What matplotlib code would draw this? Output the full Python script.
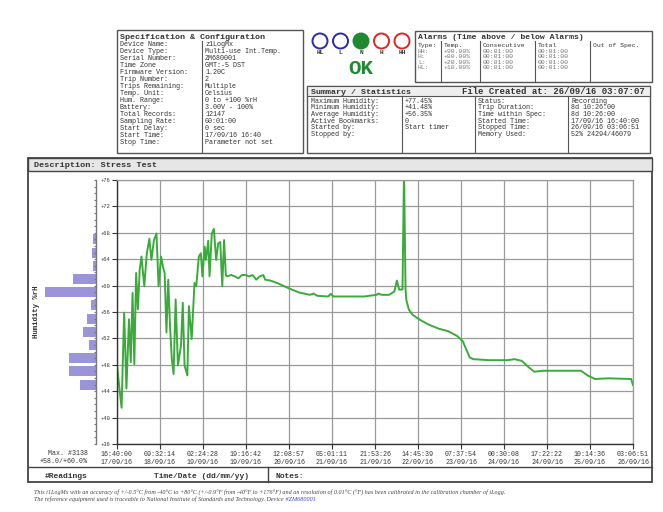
import numpy as np
import matplotlib.pyplot as plt
from matplotlib.patches import Rectangle, Circle

# humidity trace, elapsed hours since start (17/09/16 16:40:00)
hours = [0.0, 1.1, 1.8, 2.8, 3.7, 4.7, 5.4, 6.1, 6.8, 7.5, 8.2, 8.9, 9.6, 10.7, 11.7,
         12.7, 13.5, 14.5, 15.5, 16.3, 17.3, 18.0, 18.7, 19.4, 20.1, 20.8, 21.5, 22.2,
         23.0, 23.9, 25.1, 25.8, 26.5, 27.6, 28.2, 29.3, 30.4, 31.1, 32.1, 32.9, 33.5,
         34.4, 34.9, 35.8, 36.3, 37.2, 38.0, 38.9, 39.7, 40.5, 41.3, 42.0, 42.7, 43.1,
         44.8, 46.2, 47.6, 49.0, 50.4, 51.8, 53.2, 54.6, 56.0, 57.4, 58.1, 60.3, 63.1,
         67.3, 71.5, 75.7, 77.1, 78.6, 82.8, 83.9, 84.9, 89.8, 96.9, 101.8, 102.5,
         103.9, 106.7, 108.8, 109.8, 110.7, 112.0, 112.6, 113.2, 113.5, 114.5, 115.9,
         118.7, 122.2, 126.4, 129.9, 133.5, 135.6, 137.0, 138.4, 139.8, 146.1, 153.2,
         156.0, 158.8, 161.6, 163.7, 167.2, 174.3, 182.0, 184.8, 187.6, 192.6, 201.7,
         202.4]
humidity = [47.9, 43.9, 41.5, 55.9, 44.4, 54.9, 48.4, 58.9, 48.1, 61.9, 56.4, 62.4,
            64.4, 59.9, 64.9, 67.1, 63.9, 66.9, 67.9, 59.9, 64.4, 62.9, 61.9, 52.9,
            60.9, 53.9, 48.9, 46.6, 57.9, 47.9, 50.9, 57.4, 47.9, 46.4, 56.9, 51.9,
            60.4, 59.9, 64.4, 64.9, 61.4, 65.9, 63.9, 66.8, 61.4, 67.9, 68.6, 63.9,
            66.4, 66.6, 59.9, 66.9, 61.6, 61.4, 61.6, 61.4, 61.1, 61.6, 61.6, 61.4,
            61.6, 60.9, 61.4, 61.6, 60.9, 60.75, 60.35, 59.6, 58.95, 58.6, 58.8, 58.45,
            58.35, 58.75, 58.35, 58.35, 58.35, 58.6, 58.8, 58.6, 58.6, 59.1, 60.75,
            59.4, 59.4, 77.45, 59.4, 57.85, 56.35, 55.6, 54.85, 54.1, 53.45, 53.1,
            52.35, 51.6, 50.35, 49.1, 48.85, 48.7, 48.7, 48.85, 48.6, 47.6, 46.95,
            47.1, 47.1, 47.1, 46.35, 45.85, 45.95, 45.85, 44.95]

hist_centers = [67, 65, 63, 61, 59, 57, 55, 53, 51, 49, 47, 45]
hist_counts = [210, 270, 210, 1450, 3210, 335, 585, 840, 420, 1680, 1680, 1010]

tick_times = ['16:40:00', '09:32:14', '02:24:28', '19:16:42', '12:08:57', '05:01:11',
              '21:53:26', '14:45:39', '07:37:54', '00:30:08', '17:22:22', '10:14:36',
              '03:06:51']
tick_dates = ['17/09/16', '18/09/16', '19/09/16', '19/09/16', '20/09/16', '21/09/16',
              '21/09/16', '22/09/16', '23/09/16', '24/09/16', '24/09/16', '25/09/16',
              '26/09/16']
trip_hours = 202.43

spec_labels = ['Device Name:', 'Device Type:', 'Serial Number:', 'Time Zone', 'Firmware Version:',
               'Trip Number:', 'Trips Remaining:', 'Temp. Unit:', 'Hum. Range:', 'Battery:',
               'Total Records:', 'Sampling Rate:', 'Start Delay:', 'Start Time:', 'Stop Time:']
spec_values = ['z1LogMx', 'Multi-use Int.Temp.', 'ZM680001', 'GMT:-5 DST', '1.20C', '2',
               'Multiple', 'Celsius', '0 to +100 %rH', '3.00V - 100%', '12147', '00:01:00',
               '0 sec', '17/09/16 16:40', 'Parameter not set']

alarm_types = ['HH:', 'H:', 'L:', 'HL:']
alarm_levels = ['+90.00%', '+80.00%', '+20.00%', '+10.00%']
alarm_consec = ['00:01:00'] * 4
alarm_total = ['00:01:00'] * 4

sum_labels1 = ['Maximum Humidity:', 'Minimum Humidity:', 'Average Humidity:',
               'Active Bookmarks:', 'Started by:', 'Stopped by:']
sum_values1 = ['+77.45%', '+41.48%', '+56.35%', '0', 'Start timer', '']
sum_labels2 = ['Status:', 'Trip Duration:', 'Time within Spec:', 'Started Time:',
               'Stopped Time:', 'Memory Used:']
sum_values2 = ['Recording', '8d 10:26:00', '8d 10:26:00', '17/09/16 16:40:00',
               '26/09/16 03:06:51', '52% 24294/46079']

mono = 'Liberation Mono'
txt = '#333333'
W, H = 663, 512

fig = plt.figure(figsize=(W / 100, H / 100), dpi=100)
fig.patch.set_facecolor('white')

# pixel-space overlay for the report frame
bg = fig.add_axes([0, 0, 1, 1], zorder=0)
bg.set_xlim(0, W)
bg.set_ylim(H, 0)
bg.axis('off')


def box(x0, y0, x1, y1, lw=1.0, fc='none', ec='#555555'):
    bg.add_patch(Rectangle((x0, y0), x1 - x0, y1 - y0, fc=fc, ec=ec, lw=lw))


def t(x, y, s, size=4.9, bold=False, **kw):
    # y is the visual middle of the row; shift to the baseline
    return bg.text(x, y + size * 0.45, s, fontsize=size, family=mono, color=kw.pop('color', txt),
                   fontweight='bold' if bold else 'normal', va='baseline', **kw)


# specification box
box(117, 30, 303, 153)
bg.plot([202, 202], [41, 153], color='#555555', lw=0.8)
t(120, 36, 'Specification & Configuration', size=6.0, bold=True)
for i, (lab, val) in enumerate(zip(spec_labels, spec_values)):
    y = 44 + i * 7.0
    t(120, y, lab)
    t(205, y, val)

# LEDs
led_x = [320, 340.5, 361, 381.5, 402]
led_names = ['HL', 'L', 'N', 'H', 'HH']
led_col = ['#2a2aa8', '#2a2aa8', '#1f8a2f', '#e02424', '#e02424']
for x, nm, c in zip(led_x, led_names, led_col):
    bg.add_patch(Circle((x, 41), 7.5, fc=c if nm == 'N' else 'white', ec=c, lw=1.4))
    t(x, 52, nm, size=4.5, bold=True, ha='center')
t(361, 67, 'OK', size=15, bold=True, ha='center', color='#1f8a2f')

# alarms box
box(415, 31, 652, 82)
t(418, 36, 'Alarms (Time above / below Alarms)', size=5.9, bold=True)
for xv in [441, 480, 535, 590]:
    bg.plot([xv, xv], [41, 82], color='#555555', lw=0.8)
t(418, 45, 'Type:', size=4.6)
t(444, 45, 'Temp.', size=4.6)
t(483, 45, 'Consecutive', size=4.6)
t(538, 45, 'Total', size=4.6)
t(593, 45, 'Out of Spec.', size=4.6)
for i in range(4):
    y = 50.5 + i * 5.6
    t(418, y, alarm_types[i], size=4.6, color='#777777')
    t(444, y, alarm_levels[i], size=4.6, color='#777777')
    t(483, y, alarm_consec[i], size=4.6, color='#777777')
    t(538, y, alarm_total[i], size=4.6, color='#777777')

# summary box
box(307, 86, 650, 153)
box(307, 86, 650, 96, fc='#eeeeee', lw=0.8)
t(311, 91, 'Summary / Statistics', size=6.0, bold=True)
t(462, 91, 'File Created at: 26/09/16 03:07:07', size=6.4, bold=True)
for xv in [402, 475, 568]:
    bg.plot([xv, xv], [96, 153], color='#555555', lw=0.8)
for i in range(6):
    y = 100.5 + i * 6.6
    t(311, y, sum_labels1[i])
    t(405, y, sum_values1[i])
    t(478, y, sum_labels2[i])
    t(571, y, sum_values2[i])

# chart frame
box(28, 158, 652, 482, lw=1.3, ec='#444444')
box(28, 158, 652, 171, fc='#e6e6e6', lw=1.0, ec='#444444')
t(34, 164.5, 'Description: Stress Test', size=6.1, bold=True)
bg.plot([28, 652], [467, 467], color='#444444', lw=1.0)
bg.plot([268, 268], [467, 482], color='#444444', lw=1.0)
t(45, 475, '#Readings', size=5.8, bold=True)
t(201, 475, 'Time/Date (dd/mm/yy)', size=5.7, bold=True, ha='center')
t(275, 475, 'Notes:', size=5.8, bold=True)
t(88, 452.5, 'Max. #3138', size=4.8, ha='right')
t(88, 460.5, '+58.0/+60.0%', size=4.8, ha='right')

# footer
serif = dict(fontsize=4.4, family='Liberation Serif', style='italic', va='center')
bg.text(34, 493, 'This i1LogMx with an accuracy of +/-0.5\u00b0C from -40\u00b0C to +80\u00b0C (+/-0.9\u00b0F from -40\u00b0F to +176\u00b0F) '
        'and an resolution of 0.01\u00b0C (\u00b0F) has been calibrated in the calibration chamber of iLogg.',
        color='#444444', **serif)
f2 = bg.text(34, 499.5, 'The reference equipment used is traceable to National Institute of Standards and Technology. Device',
             color='#444444', **serif)
bg.annotate(' #ZM680001', xy=(1, 0.5), xycoords=f2, ha='left', color='#3344cc', **serif)

# main humidity chart
ax = fig.add_axes([117 / W, 1 - 444 / H, 516 / W, 264 / H], zorder=2)
ax.plot(hours, humidity, color='#3aab3a', lw=1.4)
ax.set_xlim(0, trip_hours)
ax.set_ylim(36, 76)
xt = np.linspace(0, trip_hours, len(tick_times))
ax.set_xticks(xt)
ax.set_xticklabels([a + '\n' + b for a, b in zip(tick_times, tick_dates)],
                   family=mono, fontsize=4.8, color=txt, linespacing=1.3)
yt = np.arange(36, 77, 4)
ax.set_yticks(yt)
ax.set_yticklabels(['+%d' % v for v in yt], family=mono, fontsize=4.0, color=txt)
ax.tick_params(axis='both', length=3.5, width=0.8, color='#333333', pad=1.5)
ax.grid(True, color='#9a9a9a', lw=0.9)
for side in ['top', 'right']:
    ax.spines[side].set_color('#9a9a9a')
    ax.spines[side].set_linewidth(0.9)
for side in ['left', 'bottom']:
    ax.spines[side].set_color('#333333')
    ax.spines[side].set_linewidth(1.0)
ax.set_axisbelow(True)

# distribution histogram on the left
hx = fig.add_axes([40 / W, 1 - 444 / H, 56 / W, 264 / H], zorder=1)
hx.barh(hist_centers, hist_counts, height=1.5, color='#9a94d8')
hx.set_xlim(3520, 0)
hx.set_ylim(36, 76)
hx.set_xticks([])
hx.set_yticks([])
hx.set_yticks(np.arange(36, 77, 1), minor=True)
hx.tick_params(axis='y', which='minor', length=1.5, width=0.8, color='#777777',
               left=False, right=True, direction='in')
hx.set_facecolor('none')
for side in ['top', 'bottom', 'left']:
    hx.spines[side].set_visible(False)
hx.spines['right'].set_color('#777777')
hx.spines['right'].set_linewidth(1.0)
bg.text(37, 312, 'Humidity %rH', rotation=90, fontsize=5.3, family=mono,
        fontweight='bold', color=txt, ha='center', va='center')

fig.savefig('out.png', dpi=100)
